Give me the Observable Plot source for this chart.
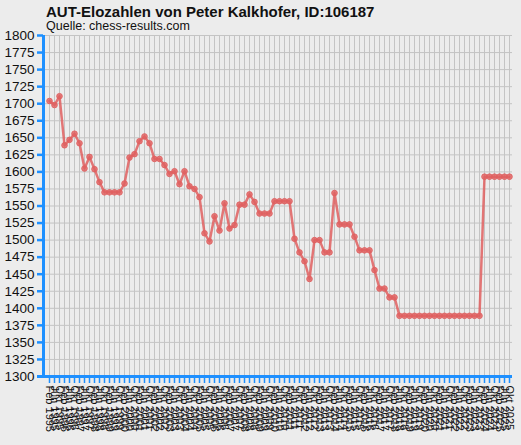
<!DOCTYPE html>
<html>
<head>
<meta charset="utf-8">
<script src="https://cdn.jsdelivr.net/npm/d3@7"></script>
<script src="https://cdn.jsdelivr.net/npm/@observablehq/plot@0.6"></script>
<style>
  html, body { margin: 0; padding: 0; background: #ececec; width: 521px; height: 445px; overflow: hidden; font-family: "Liberation Sans", Arial, sans-serif; }
  #title { position: absolute; left: 46px; top: 3px; font-size: 15px; line-height: 17px; font-weight: bold; color: #111; white-space: nowrap; }
  #subtitle { position: absolute; left: 46px; top: 19px; font-size: 12.5px; line-height: 15px; color: #111; white-space: nowrap; }
  #chart { position: absolute; left: 0; top: 28px; }
</style>
</head>
<body>
<div id="title">AUT-Elozahlen von Peter Kalkhofer, ID:106187</div>
<div id="subtitle">Quelle: chess-results.com</div>
<div id="chart"></div>
<script>
const elo = [
  1704, 1698, 1711, 1639, 1647, 1656, 1642, 1605, 1622, 1604,
  1585, 1570, 1570, 1570, 1570, 1583, 1621, 1626, 1645, 1652,
  1642, 1619, 1619, 1610, 1597, 1601, 1582, 1601, 1579, 1575,
  1563, 1510, 1498, 1535, 1514, 1554, 1517, 1522, 1552, 1552,
  1567, 1556, 1539, 1539, 1539, 1557, 1557, 1557, 1557, 1502,
  1482, 1469, 1443, 1500, 1500, 1482, 1482, 1569, 1523, 1523,
  1523, 1505, 1485, 1485, 1485, 1456, 1429, 1429, 1416, 1416,
  1389, 1389, 1389, 1389, 1389, 1389, 1389, 1389, 1389, 1389,
  1389, 1389, 1389, 1389, 1389, 1389, 1389, 1593, 1593, 1593,
  1593, 1593, 1593
];
const months = ["Feb", "Jun", "Okt"];
const firstYear = 1995;
const labels = elo.map((_, i) => `${months[i % 3]} ${firstYear + Math.floor(i / 3)}`);
const yTicks = [1300, 1325, 1350, 1375, 1400, 1425, 1450, 1475, 1500, 1525, 1550,
                1575, 1600, 1625, 1650, 1675, 1700, 1725, 1750, 1775, 1800];

const data = elo.map((v, i) => ({i, v, label: labels[i]}));
const idx = data.map(d => d.i);
const blue = "#1e90ff";
const red = "#e06060";

const chart = Plot.plot({
  width: 521,
  height: 417,
  marginLeft: 43,
  marginRight: 9,
  marginTop: 7,
  marginBottom: 69,
  style: {background: "transparent", fontFamily: "'Liberation Sans', Arial, sans-serif", color: "#111"},
  x: {type: "linear", domain: [-1.2, 92.6]},
  y: {domain: [1300, 1800]},
  marks: [
    Plot.gridX(idx, {stroke: "#c4c4c4", strokeOpacity: 1, strokeWidth: 1}),
    Plot.gridY(yTicks, {stroke: "#c4c4c4", strokeOpacity: 1, strokeWidth: 1}),
    Plot.axisY({ticks: yTicks, tickSize: 6, tickPadding: 3, stroke: blue, strokeWidth: 2.5, fontSize: 13.5, fill: "#111", tickFormat: d => String(d), label: null}),
    Plot.axisX({ticks: idx, tickSize: 7, tickPadding: 2, stroke: blue, strokeWidth: 1.5, tickRotate: 90, fontSize: 11, fill: "#111", tickFormat: i => labels[i], label: null}),
    Plot.ruleX([-1.2], {y1: 1300, y2: 1800, stroke: blue, strokeWidth: 3}),
    Plot.ruleY([1300], {x1: -2.4, x2: 92.6, stroke: blue, strokeWidth: 3}),
    Plot.line(data, {x: "i", y: "v", stroke: red, strokeWidth: 2.5, strokeOpacity: 0.85}),
    Plot.dot(data, {x: "i", y: "v", r: 2.8, fill: red, fillOpacity: 0.8, stroke: red, strokeOpacity: 0.9, strokeWidth: 1})
  ]
});
document.getElementById("chart").appendChild(chart);
</script>
</body>
</html>
